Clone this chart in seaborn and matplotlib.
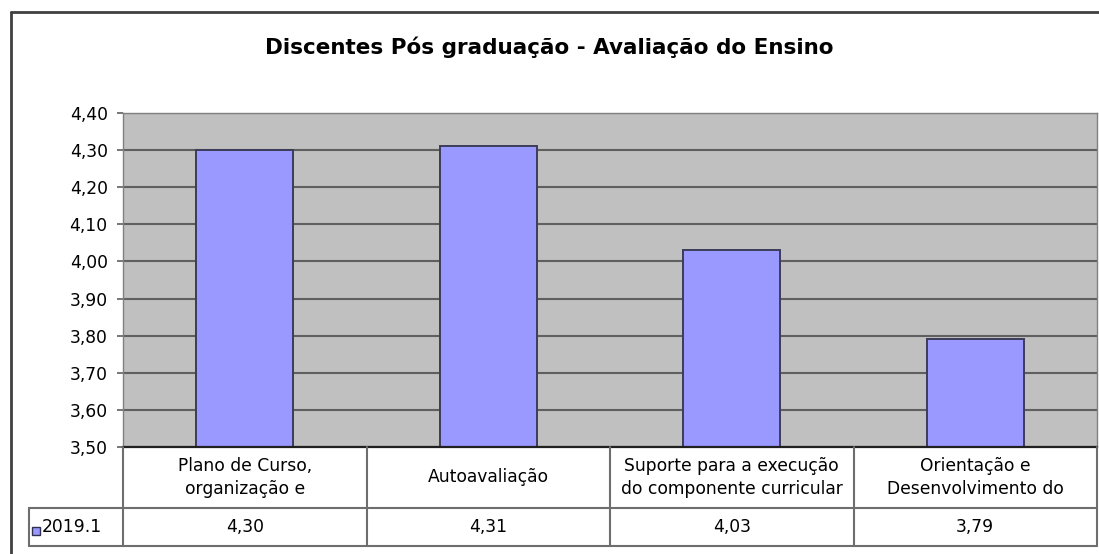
import matplotlib

matplotlib.use("Agg")
import matplotlib.pyplot as plt  # noqa: E402
import seaborn as sns  # noqa: E402
from matplotlib.lines import Line2D  # noqa: E402
from matplotlib.patches import Rectangle  # noqa: E402
from matplotlib.transforms import blended_transform_factory  # noqa: E402

import pandas as pd

title = "Discentes Pós graduação - Avaliação do Ensino"
series_name = "2019.1"
categories = [
    "Plano de Curso,\norganização e",
    "Autoavaliação",
    "Suporte para a execução\ndo componente curricular",
    "Orientação e\nDesenvolvimento do",
]
values = [4.30, 4.31, 4.03, 3.79]
y_ticks = [3.50, 3.60, 3.70, 3.80, 3.90, 4.00, 4.10, 4.20, 4.30, 4.40]

W, H = 1099, 554
BAR = "#9999FF"
EDGE = "#3c3c5a"
GRID = "#5f5f5f"
TABLE = "#6e6e6e"
FS = 12.3

sns.set_theme(style="white")
plt.rcParams["font.family"] = ["DejaVu Sans"]
plt.rcParams["text.color"] = "black"

df = pd.DataFrame({"cat": range(len(categories)), "val": values})

fig = plt.figure(figsize=(W / 100, H / 100), dpi=100)
fig.patch.set_facecolor("white")


def fx(px):
    return px / W


def fy(py):
    return 1 - py / H


ax = fig.add_axes([fx(123), fy(447), fx(1097) - fx(123), fy(113) - fy(447)])
ax.set_facecolor("#C0C0C0")
ax.set_axisbelow(True)
for t in y_ticks:
    ax.axhline(t, color=GRID, lw=1.5, zorder=0)

sns.barplot(data=df, x="cat", y="val", color=BAR, saturation=1, width=0.4,
            edgecolor=EDGE, linewidth=1.4, ax=ax, zorder=2)

ax.set_xlim(-0.5, len(categories) - 0.5)
ax.set_ylim(y_ticks[0], y_ticks[-1])
ax.set_yticks(y_ticks)
ax.set_yticklabels([f"{t:.2f}".replace(".", ",") for t in y_ticks], fontsize=FS,
                   color="black")
ax.set_xticks([])
ax.set_xlabel("")
ax.set_ylabel("")
ax.tick_params(axis="y", left=True, length=4.5, width=1.2, color=GRID, pad=6.5)
for side in ["left", "right", "top"]:
    ax.spines[side].set_color("#808080")
    ax.spines[side].set_linewidth(1)
ax.spines["bottom"].set_color("#202020")
ax.spines["bottom"].set_linewidth(1.6)

# outer chart frame (left and top visible)
fig.add_artist(Line2D([fx(11), fx(11)], [fy(12), fy(554)], color="#404040", lw=2,
                      transform=fig.transFigure))
fig.add_artist(Line2D([fx(11), fx(1099)], [fy(12), fy(12)], color="#404040", lw=2,
                      transform=fig.transFigure))

fig.text(0.5, fy(47), title, ha="center", va="center", fontsize=15.5,
         fontweight="bold", color="black")

# data table below the plot
bt = blended_transform_factory(ax.transData, fig.transFigure)
y_top, y_mid, y_bot = fy(447), fy(508), fy(546)
n = len(categories)
for i in range(n + 1):
    x = i - 0.5
    fig.add_artist(Line2D([x, x], [y_top, y_bot], color=TABLE, lw=1.5, transform=bt))
for yy in (y_mid, y_bot):
    fig.add_artist(Line2D([fx(29), fx(1097)], [yy, yy], color=TABLE, lw=1.5,
                          transform=fig.transFigure))
fig.add_artist(Line2D([fx(29), fx(29)], [y_mid, y_bot], color=TABLE, lw=1.5,
                      transform=fig.transFigure))

for i, (cat, v) in enumerate(zip(categories, values)):
    fig.text(i, (y_top + y_mid) / 2, cat, transform=bt, ha="center", va="center",
             fontsize=FS, linespacing=1.3, color="black")
    fig.text(i, (y_mid + y_bot) / 2, f"{v:.2f}".replace(".", ","), transform=bt,
             ha="center", va="center", fontsize=FS, color="black")

fig.add_artist(Rectangle((fx(32), fy(535)), fx(8), fy(527) - fy(535), facecolor=BAR,
                         edgecolor="#303050", lw=1, transform=fig.transFigure))
fig.text(fx(42), (y_mid + y_bot) / 2, series_name, ha="left", va="center",
         fontsize=FS, color="black")

fig.savefig("out.png", dpi=100, facecolor="white")
